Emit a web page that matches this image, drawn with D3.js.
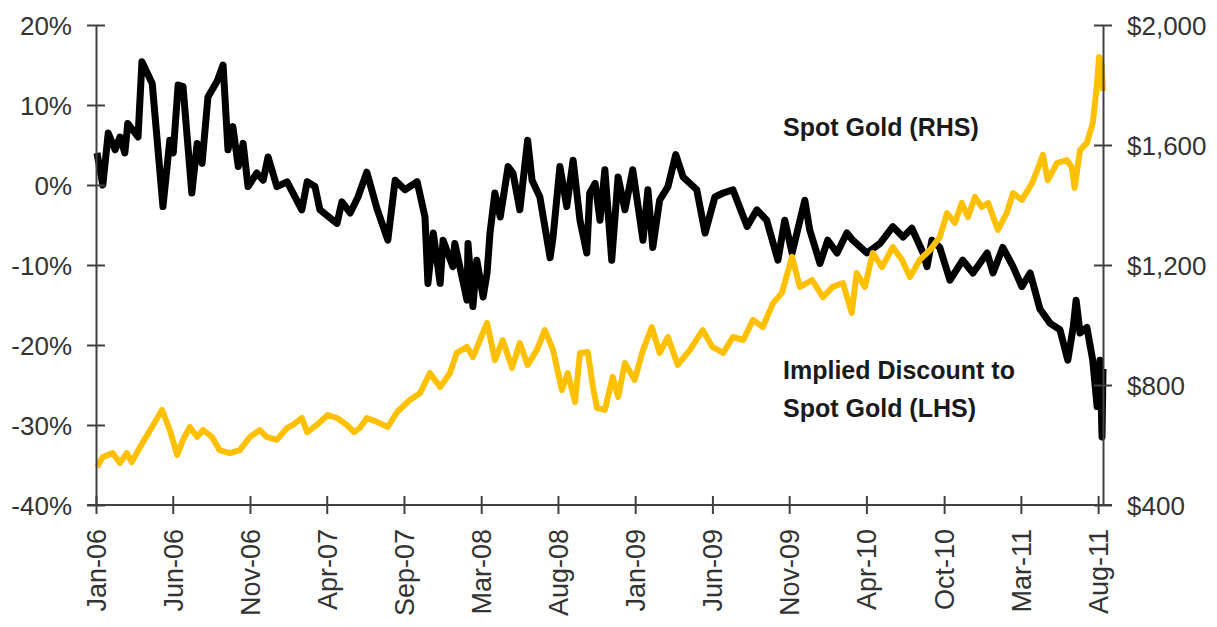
<!DOCTYPE html>
<html>
<head>
<meta charset="utf-8">
<script src="https://cdn.jsdelivr.net/npm/d3@7"></script>
<style>
  body { margin: 0; background: #fff; }
  text { font-family: "Liberation Sans", Arial, sans-serif; }
</style>
</head>
<body>
<script>
var w = 1217;
var h = 627;
var margin = {top: 25, right: 114, bottom: 122, left: 96};

// implied discount to spot gold, % (LHS) - black line
var discountDates = [
  "2006-01-05","2006-01-17","2006-01-28","2006-02-11","2006-02-21","2006-03-03","2006-03-09","2006-03-30",
  "2006-04-07","2006-04-28","2006-05-20","2006-06-03","2006-06-10","2006-06-20","2006-06-30","2006-07-18",
  "2006-07-29","2006-08-08","2006-08-20","2006-09-08","2006-09-20","2006-09-30","2006-10-10","2006-10-21",
  "2006-10-31","2006-11-10","2006-11-28","2006-12-11","2006-12-21","2007-01-08","2007-01-29","2007-02-28",
  "2007-03-11","2007-03-27","2007-04-06","2007-05-11","2007-05-21","2007-06-07","2007-06-23","2007-07-11",
  "2007-08-01","2007-08-23","2007-09-07","2007-09-27","2007-10-22","2007-11-07","2007-11-13","2007-11-24",
  "2007-12-08","2007-12-14","2008-01-03","2008-01-07","2008-02-01","2008-02-03","2008-02-13","2008-02-21",
  "2008-03-05","2008-03-13","2008-03-19","2008-03-29","2008-04-09","2008-04-25","2008-05-05","2008-05-19",
  "2008-06-04","2008-06-13","2008-06-29","2008-07-20","2008-07-26","2008-08-09","2008-08-23","2008-09-05",
  "2008-09-19","2008-10-03","2008-10-09","2008-10-20","2008-10-30","2008-11-09","2008-11-23","2008-12-06",
  "2008-12-20","2009-01-05","2009-01-26","2009-02-05","2009-02-15","2009-03-01","2009-03-18","2009-04-03",
  "2009-04-18","2009-05-16","2009-06-02","2009-06-22","2009-07-09","2009-07-29","2009-08-27","2009-09-16",
  "2009-10-06","2009-10-29","2009-11-12","2009-11-27","2009-12-23","2010-01-02","2010-01-23","2010-02-08",
  "2010-02-27","2010-03-19","2010-03-31","2010-04-29","2010-05-26","2010-06-21","2010-07-12","2010-07-30",
  "2010-08-22","2010-08-30","2010-09-09","2010-09-25","2010-10-16","2010-11-11","2010-12-02","2010-12-31",
  "2011-01-12","2011-02-01","2011-02-22","2011-03-12","2011-03-29","2011-04-18","2011-05-09","2011-05-29",
  "2011-06-14","2011-06-25","2011-07-01","2011-07-09","2011-07-23","2011-08-04","2011-08-13","2011-08-19",
  "2011-08-23","2011-08-25"
];
var discountValues = [
  4, 0, 6.5, 4.4, 6, 4, 7.7, 6,
  15.4, 12.7, -2.7, 5.6, 4, 12.5, 12.3, -1,
  5.2, 2.7, 11, 13, 15, 4.4, 7.3, 2.3,
  5.2, -0.2, 1.5, 0.6, 3.5, -0.2, 0.4, -3.1,
  0.4, -0.2, -3.1, -4.8, -2.1, -3.5, -1.5, 1.6,
  -3, -6.9, 0.6, -0.6, 0.4, -4, -12.3, -6,
  -12.3, -6.9, -10.2, -7.3, -14.4, -7.3, -15.2, -9.4,
  -14, -11, -6, -1, -4, 2.3, 1.5, -3.1,
  5.6, 0.6, -1.5, -9.1, -6.5, 2.3, -2.7, 3.1,
  -4.4, -8.5, -1, 0.2, -4.4, 1.9, -9.4, 1,
  -3.1, 1.9, -6.9, -0.6, -7.8, -1.9, -0.2, 3.8,
  1, -0.6, -6, -1.5, -1, -0.6, -5.2, -3.1,
  -4.4, -9.4, -4.4, -8.5, -1.9, -5.6, -9.8, -6.9,
  -8.5, -6, -6.9, -8.5, -7.3, -5.2, -6.5, -5.4,
  -8.5, -10.2, -6.9, -7.8, -11.9, -9.4, -11, -8.5,
  -11, -7.8, -10.2, -12.7, -11, -15.5, -17.3, -18.1,
  -21.9, -17.8, -14.4, -18.5, -17.8, -21.9, -27.7, -21.9,
  -31.5, -23
];

// spot gold, US$/oz (RHS) - gold line
var goldDates = [
  "2006-01-05","2006-01-17","2006-02-06","2006-02-21","2006-03-07","2006-03-17","2006-04-03","2006-04-24",
  "2006-05-18","2006-06-03","2006-06-18","2006-06-30","2006-07-14","2006-07-29","2006-08-10","2006-08-28",
  "2006-09-13","2006-10-04","2006-10-24","2006-11-14","2006-12-04","2006-12-18","2007-01-08","2007-01-29",
  "2007-02-10","2007-02-28","2007-03-11","2007-03-31","2007-04-22","2007-05-11","2007-05-31","2007-06-15",
  "2007-06-27","2007-07-11","2007-08-01","2007-08-23","2007-09-11","2007-10-07","2007-10-28","2007-11-17",
  "2007-12-08","2007-12-28","2008-01-11","2008-02-01","2008-02-13","2008-03-13","2008-03-29","2008-04-14",
  "2008-05-03","2008-05-19","2008-06-04","2008-06-23","2008-07-09","2008-07-26","2008-08-13","2008-08-25",
  "2008-09-09","2008-09-19","2008-10-05","2008-10-16","2008-10-24","2008-11-09","2008-11-25","2008-12-06",
  "2008-12-20","2009-01-09","2009-01-26","2009-02-13","2009-03-01","2009-03-18","2009-04-07","2009-05-02",
  "2009-05-28","2009-06-17","2009-07-09","2009-07-29","2009-08-19","2009-09-08","2009-09-28","2009-10-19",
  "2009-11-06","2009-11-27","2009-12-13","2010-01-07","2010-01-29","2010-02-18","2010-03-11","2010-03-29",
  "2010-04-08","2010-04-25","2010-05-11","2010-05-30","2010-06-21","2010-07-10","2010-07-26","2010-08-15",
  "2010-09-05","2010-09-25","2010-10-10","2010-10-26","2010-11-09","2010-11-22","2010-12-06","2010-12-20",
  "2011-01-02","2011-01-22","2011-02-09","2011-02-22","2011-03-12","2011-04-02","2011-04-18","2011-04-24",
  "2011-05-04","2011-05-23","2011-06-12","2011-06-22","2011-06-28","2011-07-09","2011-07-23","2011-08-04",
  "2011-08-13","2011-08-17","2011-08-22","2011-08-25"
];
var goldValues = [
  527, 560, 573, 540, 573, 543, 593, 650,
  717, 650, 567, 617, 660, 627, 650, 627,
  583, 573, 583, 627, 650, 627, 617, 657,
  667, 690, 643, 667, 700, 690, 667, 643,
  657, 690, 677, 660, 710, 750, 773, 840,
  793, 840, 907, 927, 893, 1007, 883, 950,
  857, 940, 867, 917, 983, 917, 783, 840,
  743, 907, 910, 790, 723, 717, 827, 760,
  873, 817, 917, 993, 907, 960, 867, 917,
  983, 927, 907, 960, 950, 1017, 993, 1073,
  1107, 1227, 1127, 1150, 1093, 1127, 1140, 1040,
  1173, 1127, 1240, 1193, 1260, 1217, 1160, 1217,
  1250, 1293, 1373, 1340, 1407, 1360, 1427, 1393,
  1407, 1317, 1373, 1440, 1417, 1473, 1540, 1567,
  1483, 1540, 1550, 1527, 1457, 1583, 1607, 1673,
  1807, 1893, 1870, 1780
];

var dateRange = ["2006-01-03", "2011-08-25"];
var xTickDates = ["2006-01-03","2006-06-09","2006-11-14","2007-04-20","2007-09-25","2008-03-01","2008-08-05",
                  "2009-01-10","2009-06-17","2009-11-21","2010-04-28","2010-10-04","2011-03-10","2011-08-15"];
var leftTicks = [-40, -30, -20, -10, 0, 10, 20];
var rightTicks = [400, 800, 1200, 1600, 2000];

var parse = d3.timeParse("%Y-%m-%d");
var discount = discountDates.map(function(d, i) { return {date: parse(d), value: discountValues[i]}; });
var gold = goldDates.map(function(d, i) { return {date: parse(d), value: goldValues[i]}; });

var x = d3.scaleTime().domain(dateRange.map(parse)).range([margin.left, w - margin.right]);
var yL = d3.scaleLinear().domain([-40, 20]).range([h - margin.bottom, margin.top]);
var yR = d3.scaleLinear().domain([400, 2000]).range([h - margin.bottom, margin.top]);

var axisColor = "#404040";
var textColor = "#333333";

var svg = d3.select("body")
      .append("svg")
      .attr("width", w)
      .attr("height", h);

// lines
svg.append("path")
   .datum(discount)
   .attr("fill", "none")
   .attr("stroke", "#000")
   .attr("stroke-width", 7)
   .attr("stroke-linejoin", "round")
   .attr("d", d3.line().x(function(d) { return x(d.date); }).y(function(d) { return yL(d.value); }));

svg.append("path")
   .datum(gold)
   .attr("fill", "none")
   .attr("stroke", "#FFC000")
   .attr("stroke-width", 6)
   .attr("stroke-linejoin", "round")
   .attr("d", d3.line().x(function(d) { return x(d.date); }).y(function(d) { return yR(d.value); }));

// left axis
var gL = svg.append("g")
   .attr("transform", "translate(" + margin.left + ",0)")
   .call(d3.axisLeft(yL).tickValues(leftTicks).tickSizeOuter(0)
         .tickFormat(function(d) { return d + "%"; }));

// right axis
var gR = svg.append("g")
   .attr("transform", "translate(" + (w - margin.right) + ",0)")
   .call(d3.axisRight(yR).tickValues(rightTicks).tickSizeOuter(0)
         .tickFormat(function(d) { return "$" + d3.format(",")(d); }));

// bottom axis
var gX = svg.append("g")
   .attr("transform", "translate(0," + (h - margin.bottom) + ")")
   .call(d3.axisBottom(x).tickValues(xTickDates.map(parse)).tickSizeOuter(0)
         .tickFormat(d3.timeFormat("%b-%y")));

[gL, gR, gX].forEach(function(g) {
  g.select(".domain").attr("stroke", axisColor).attr("stroke-width", 2);
  g.selectAll(".tick line").attr("stroke", axisColor).attr("stroke-width", 2);
  g.selectAll("text").attr("fill", textColor);
});

gL.selectAll(".tick line").attr("x1", 9).attr("x2", -9);
gL.selectAll(".tick text").attr("x", -24).attr("dy", "0.35em").attr("font-size", "26px");
gR.selectAll(".tick line").attr("x1", -9).attr("x2", 9);
gR.selectAll(".tick text").attr("x", 24).attr("dy", "0.35em").attr("font-size", "26px");

gX.select(".domain").attr("d", "M" + (margin.left - 9) + ",0H" + (w - margin.right + 9));
gX.selectAll(".tick line").attr("y1", -9).attr("y2", 9);
gX.selectAll(".tick text")
   .attr("transform", "rotate(-90)")
   .attr("x", -24)
   .attr("y", 0)
   .attr("dy", "0.35em")
   .attr("text-anchor", "end")
   .attr("font-size", "27px");

// annotations
svg.append("text")
   .attr("x", 783).attr("y", 136)
   .attr("font-size", "25px").attr("font-weight", "bold").attr("fill", "#1a1a1a")
   .text("Spot Gold (RHS)");

var note = svg.append("text")
   .attr("x", 783).attr("y", 379)
   .attr("font-size", "25px").attr("font-weight", "bold").attr("fill", "#1a1a1a");
note.append("tspan").attr("x", 783).text("Implied Discount to");
note.append("tspan").attr("x", 783).attr("dy", 38).text("Spot Gold (LHS)");
</script>
</body>
</html>
